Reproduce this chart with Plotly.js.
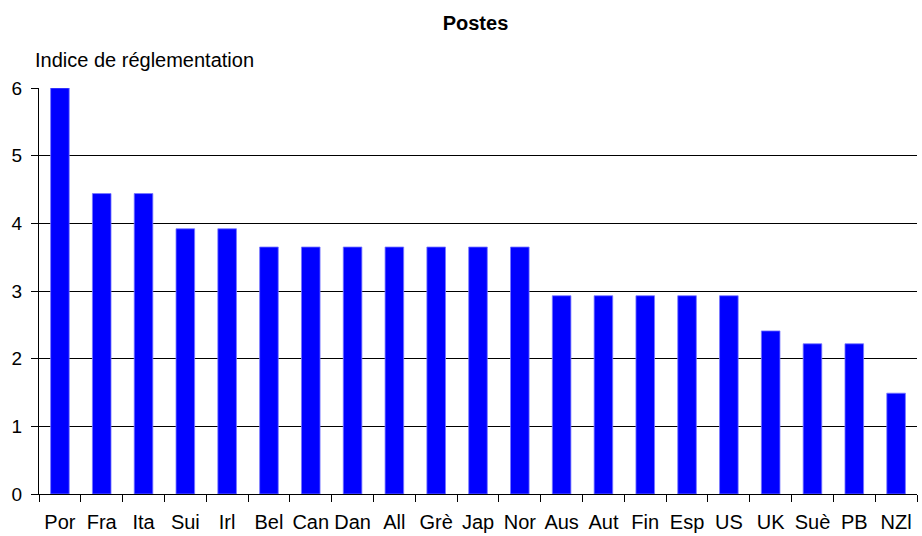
<!DOCTYPE html>
<html>
<head>
<meta charset="utf-8">
<script src="https://cdn.plot.ly/plotly-3.0.1.min.js"></script>
<style>
  html, body { margin: 0; padding: 0; background: #ffffff; }
  #chart { width: 922px; height: 536px; }
</style>
</head>
<body>
<div id="chart"></div>
<script>
// Postal sector regulation index by country
const countries = ["Por", "Fra", "Ita", "Sui", "Irl", "Bel", "Can", "Dan", "All", "Grè", "Jap",
                   "Nor", "Aus", "Aut", "Fin", "Esp", "US", "UK", "Suè", "PB", "NZl"];
const indexValues = [6.0, 4.44, 4.44, 3.92, 3.92, 3.65, 3.65, 3.65, 3.65, 3.65, 3.65,
                     3.65, 2.93, 2.93, 2.93, 2.93, 2.93, 2.41, 2.22, 2.22, 1.49];
const yTickValues = [0, 1, 2, 3, 4, 5, 6];

const FONT = "'Liberation Sans', Arial, Helvetica, sans-serif";

const trace = {
  type: "bar",
  x: countries,
  y: indexValues,
  marker: {
    color: "#0000ff",
    line: { color: "rgba(120,120,255,0.8)", width: 1 }
  },
  hoverinfo: "x+y"
};

const layout = {
  width: 922,
  height: 536,
  paper_bgcolor: "#ffffff",
  plot_bgcolor: "#ffffff",
  margin: { l: 39, r: 5, t: 88, b: 42 },
  bargap: 0.555,
  showlegend: false,
  font: { family: FONT, color: "#000000" },
  title: {
    text: "<b>Postes</b>",
    font: { family: FONT, size: 20, color: "#000000" },
    x: 0.5157,
    xanchor: "center",
    xref: "container",
    y: 1 - 23 / 536,
    yanchor: "middle",
    yref: "container"
  },
  xaxis: {
    type: "category",
    tickson: "boundaries",
    tickangle: 0,
    ticks: "outside",
    ticklen: 7,
    tickwidth: 1,
    tickcolor: "#000000",
    showline: true,
    linecolor: "#000000",
    linewidth: 1,
    showgrid: false,
    tickfont: { family: FONT, size: 20, color: "#000000" },
    ticklabelstandoff: 10,
    fixedrange: true
  },
  yaxis: {
    range: [0, 6],
    tickmode: "array",
    tickvals: yTickValues,
    ticktext: yTickValues.map(String),
    ticks: "outside",
    ticklen: 7,
    tickwidth: 1,
    tickcolor: "#000000",
    showline: true,
    linecolor: "#000000",
    linewidth: 1,
    showgrid: true,
    gridcolor: "#000000",
    gridwidth: 1,
    zeroline: false,
    tickfont: { family: FONT, size: 19, color: "#000000" },
    ticklabelstandoff: 5,
    fixedrange: true
  },
  annotations: [{
    text: "Indice de réglementation",
    xref: "paper",
    yref: "paper",
    x: (33 - 39) / 878,
    y: (494 - 60) / 406,
    xanchor: "left",
    yanchor: "middle",
    showarrow: false,
    font: { family: FONT, size: 20, color: "#000000" }
  }]
};

Plotly.newPlot("chart", [trace], layout, { displayModeBar: false, staticPlot: true });
</script>
</body>
</html>
